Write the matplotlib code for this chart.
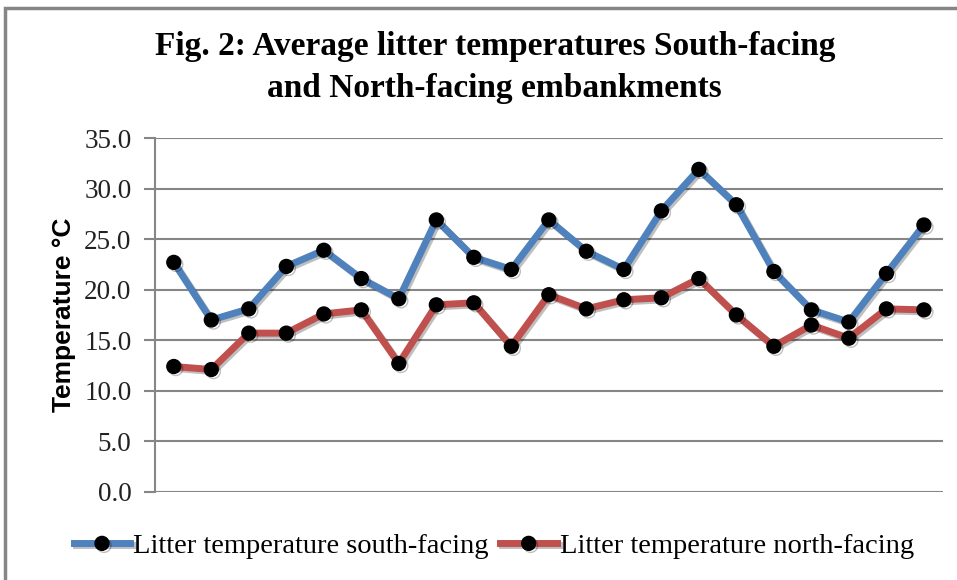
import matplotlib
matplotlib.use("Agg")
import matplotlib.pyplot as plt
from matplotlib.patches import Rectangle
import matplotlib.patheffects as pe
import numpy as np

# data (21 sampling dates)
south = [22.7, 17.0, 18.1, 22.3, 23.9, 21.1, 19.1, 26.9, 23.2, 22.0, 26.9,
         23.8, 22.0, 27.8, 31.9, 28.4, 21.8, 18.0, 16.8, 21.6, 26.4]
north = [12.4, 12.1, 15.7, 15.7, 17.6, 18.0, 12.7, 18.5, 18.7, 14.4, 19.5,
         18.1, 19.0, 19.2, 21.1, 17.5, 14.4, 16.5, 15.2, 18.1, 18.0]
labels = ["Litter temperature south-facing", "Litter temperature north-facing"]
colors = ["#4F81BD", "#C0504D"]
yticks = [0, 5, 10, 15, 20, 25, 30, 35]

GRID = "#868686"
SERIF = ["Liberation Serif", "DejaVu Serif"]

fig = plt.figure(figsize=(9.57, 5.80), dpi=100)
ax = fig.add_axes([0.162, 0.152, 0.823, 0.610])

x = np.arange(len(south))
shadow = [pe.SimpleLineShadow(offset=(1.5, -1.5), alpha=0.25, shadow_color="k"), pe.Normal()]
for vals, col, lab in zip([south, north], colors, labels):
    ax.plot(x, vals, color=col, lw=5, marker="o", ms=10, mfc="black", mec="black",
            label=lab, path_effects=shadow, solid_joinstyle="miter")

ax.set_xlim(-0.5, len(south) - 0.5)
ax.set_ylim(0, 35)
ax.set_yticks(yticks)
ax.set_yticklabels([f"{v:.1f}" for v in yticks], family=SERIF, fontsize=19.5, color="#222222")
ax.set_xticks([])
ax.grid(axis="y", color=GRID, lw=1.5)
ax.set_axisbelow(True)
for s in ["top", "right", "bottom"]:
    ax.spines[s].set_visible(False)
ax.spines["left"].set_color(GRID)
ax.spines["left"].set_linewidth(1.5)
ax.tick_params(axis="y", length=8, width=1.5, color=GRID, pad=9)
ax.set_ylabel("Temperature °C", family=["Liberation Sans", "DejaVu Sans"],
              fontweight="bold", fontsize=19, labelpad=6)

fig.text(0.517, 0.883, "Fig. 2: Average litter temperatures South-facing\nand North-facing embankments",
         ha="center", va="center", family=SERIF, fontweight="bold", fontsize=24,
         linespacing=1.45)

fig.legend(loc="center", bbox_to_anchor=(0.516, 0.058), ncol=2, frameon=False,
           prop={"family": SERIF, "size": 20.5}, handlelength=2.0, handletextpad=0.1,
           columnspacing=0.4)

# outer chart frame (only left and top edges visible in the crop)
fig.add_artist(Rectangle((0.0055, -0.1), 1.2, 1.086, transform=fig.transFigure,
                         fill=False, ec=GRID, lw=2.5))

fig.savefig("out.png", dpi=100)
